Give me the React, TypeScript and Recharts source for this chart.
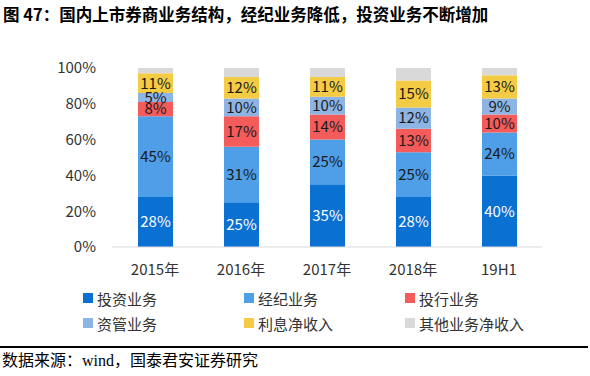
import React from "react";
import { BarChart, Bar, XAxis, YAxis, LabelList } from "recharts";

const categories = ["2015年", "2016年", "2017年", "2018年", "19H1"];
const investment = [28, 25, 35, 28, 40];
const brokerage = [45, 31, 25, 25, 24];
const ibanking = [8, 17, 14, 13, 10];
const assetMgmt = [5, 10, 10, 12, 9];
const interest = [11, 12, 11, 15, 13];
const other = [3, 5, 5, 7, 4];
const yTicks = [0, 20, 40, 60, 80, 100];

const series = [
  { key: "inv", name: "投资业务", values: investment, color: "#0A70D2", labelColor: "#FFFFFF", label: true },
  { key: "bro", name: "经纪业务", values: brokerage, color: "#4E9FE7", labelColor: "#1A1A1A", label: true },
  { key: "ib", name: "投行业务", values: ibanking, color: "#F45B5B", labelColor: "#1A1A1A", label: true },
  { key: "am", name: "资管业务", values: assetMgmt, color: "#8EB4E3", labelColor: "#1A1A1A", label: true },
  { key: "int", name: "利息净收入", values: interest, color: "#F4CB45", labelColor: "#1A1A1A", label: true },
  { key: "oth", name: "其他业务净收入", values: other, color: "#D9D9D9", labelColor: "#1A1A1A", label: false },
];

const data = categories.map((c, i) => {
  const row: Record<string, string | number> = { cat: c };
  series.forEach((s) => {
    row[s.key] = s.values[i];
  });
  return row;
});

const FONT = "'Noto Sans CJK SC', 'Noto Sans', sans-serif";

export default function App() {
  return (
    <div style={{ position: "absolute", left: 0, top: 0, width: 590, height: 376, background: "#fff", fontFamily: FONT }}>
      <div style={{ position: "absolute", left: 3, top: 3, fontSize: 16.5, fontWeight: "bold", color: "#000", whiteSpace: "nowrap", lineHeight: "22px" }}>
        图 47：国内上市券商业务结构，经纪业务降低，投资业务不断增加
      </div>
      <div style={{ position: "absolute", left: 0, top: 0 }}>
        <BarChart
          width={590}
          height={290}
          data={data}
          margin={{ top: 68, right: 48, bottom: 18, left: 0 }}
        >
          <XAxis
            dataKey="cat"
            axisLine={{ stroke: "#D9D9D9" }}
            tickLine={false}
            tickMargin={11}
            height={25}
            tick={{ fontSize: 15, fill: "#333", fontFamily: FONT }}
          />
          <YAxis
            domain={[0, 100]}
            ticks={yTicks}
            width={112}
            axisLine={false}
            tickLine={false}
            tickMargin={10}
            tickFormatter={(v: number) => `${v}%`}
            tick={{ fontSize: 15, fill: "#333", fontFamily: FONT }}
          />
          {series.map((s) => (
            <Bar key={s.key} dataKey={s.key} name={s.name} stackId="a" fill={s.color} barSize={35} isAnimationActive={false}>
              {s.label && (
                <LabelList
                  dataKey={s.key}
                  position="center"
                  formatter={(v: number) => `${v}%`}
                  style={{ fontSize: 15, fill: s.labelColor, fontFamily: FONT }}
                />
              )}
            </Bar>
          ))}
        </BarChart>
      </div>
      {series.map((s, i) => {
        const col = i % 3;
        const row = Math.floor(i / 3);
        return (
          <div
            key={s.key}
            style={{
              position: "absolute",
              left: 83 + col * 161,
              top: 288 + row * 25,
              height: 20,
              display: "flex",
              alignItems: "center",
              fontSize: 15,
              color: "#333",
              whiteSpace: "nowrap",
            }}
          >
            <span style={{ display: "inline-block", width: 10, height: 10, background: s.color, marginRight: 4 }} />
            <span>{s.name}</span>
          </div>
        );
      })}
      <div style={{ position: "absolute", left: 0, top: 346, width: 588, height: 2, background: "#000" }} />
      <div style={{ position: "absolute", left: 2, top: 351, fontSize: 16, color: "#000", whiteSpace: "nowrap", lineHeight: "20px", fontFamily: "'Liberation Serif', 'Noto Sans CJK SC', serif" }}>
        数据来源：wind，国泰君安证券研究
      </div>
    </div>
  );
}
